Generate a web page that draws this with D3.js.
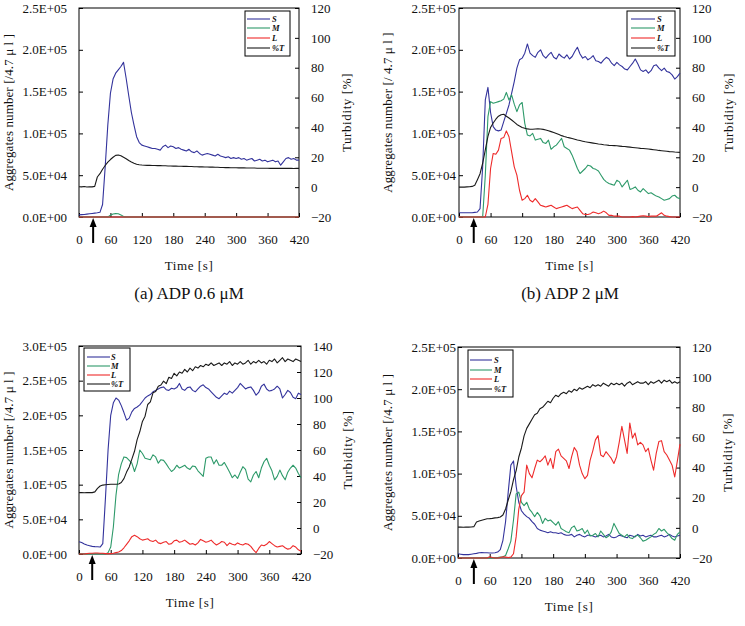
<!DOCTYPE html>
<html><head><meta charset="utf-8">
<script src="https://cdn.jsdelivr.net/npm/d3@7"></script>
<style>
body{margin:0;background:#fff}
text{font-family:"Liberation Serif","Times New Roman",serif;fill:#111}
</style>
</head><body><svg id="c" width="745" height="626"></svg>
<script>
// ---------------- DATA ----------------
// Time axis: one sample every TIME_STEP seconds, 0..420 s
const TIME_STEP = 5;
const xTicks = [0, 60, 120, 180, 240, 300, 360, 420];
// aggregates number, in thousands (x1000 /4.7 ul)
const leftTicks250 = [0, 50, 100, 150, 200, 250];
const leftLabels250 = ["0.0E+00", "5.0E+04", "1.0E+05", "1.5E+05", "2.0E+05", "2.5E+05"];
const leftTicks300 = [0, 50, 100, 150, 200, 250, 300];
const leftLabels300 = ["0.0E+00", "5.0E+04", "1.0E+05", "1.5E+05", "2.0E+05", "2.5E+05", "3.0E+05"];
const rightTicks120 = [-20, 0, 20, 40, 60, 80, 100, 120];
const rightTicks140 = [-20, 0, 20, 40, 60, 80, 100, 120, 140];
const seriesNames = ["S", "M", "L", "%T"];
const captions = ["(a) ADP 0.6 \u03bcM", "(b) ADP 2 \u03bcM"];
const arrowTimes = [27, 28, 25, 30];

// Panel (a) ADP 0.6 uM
const aS = [2.5,2.8,3.0,3.4,3.8,4.2,4.6,5.0,5.6,15,
60,110,148,165,172,176,180,185,166,145,
125,110,96,89,86,85,84,83,82,82,
81,80,84,86,83,85,84,82,83,81,
80,79,81,78,77,79,76,74,75,76,
75,74,73,75,73,72,71,72,70,71,
70,71,69,70,68,69,70,67,68,69,
67,68,66,67,68,66,67,62,66,70,
71,69,70,68,68];
const aM = [0,0,0,0,0,0,0,0,0,0,
0,0,2,3.5,4,3.8,2.5,0.5,0,0,
0,0,0,0,0,0,0,0,0,0,
0,0,0,0,0,0,0,0,0,0,
0,0,0,0,0,0,0,0,0,0,
0,0,0,0,0,0,0,0,0,0,
0,0,0,0,0,0,0,0,0,0,
0,0,0,0,0,0,0,0,0,0,
0,0,0,0,0];
const aL = [0,0,0,0,0,0,0,0,0,0,
0,0,0,0,0,0,0,0,0,0,
0,0,0,0,0,0,0,0,0,0,
0,0,0,0,0,0,0,0,0,0,
0,0,0,0,0,0,0,0,0,0,
0,0,0,0,0,0,0,0,0,0,
0,0,0,0,0,0,0,0,0,0,
0,0,0,0,0,0,0,0,0,0,
0,0,0,0,0];
const aT = [0.3,0.2,0.4,0.1,0.3,0.2,0.5,6.8,9.0,12.0,
14.5,16.8,18.5,20.0,21.3,21.5,21.0,20.0,19.0,17.8,
16.8,16.0,15.3,15.0,14.8,14.7,14.6,14.6,14.5,14.5,
14.4,14.4,14.3,14.3,14.2,14.2,14.1,14.1,14.0,14.0,
13.9,13.9,13.8,13.8,13.7,13.7,13.6,13.6,13.5,13.5,
13.4,13.4,13.3,13.3,13.2,13.2,13.1,13.1,13.0,13.0,
13.0,12.9,12.9,12.9,12.8,12.8,12.8,12.8,12.7,12.7,
12.7,12.7,12.7,12.6,12.6,12.6,12.6,12.6,12.6,12.6,
12.6,12.6,12.5,12.6,12.6];

// Panel (b) ADP 2 uM
const bS = [5,5,5,5,5,5,5.5,6,10,60,
140,155,125,108,104,103,104,114,124,134,
148,162,178,188,190,196,207,196,193,191,
197,200,193,190,194,197,191,189,195,192,
190,194,189,192,198,203,195,190,192,188,
190,193,187,186,184,188,191,189,184,181,
185,182,180,177,176,180,184,189,183,176,
174,176,172,175,181,182,178,175,178,174,
173,170,165,168,172];
const bM = [0,0,0,0,0,0,0,0,0,0,
50,120,138,136,137,138,139,141,149,140,
146,135,126,134,137,112,98,97,100,92,
93,94,89,88,92,81,84,86,90,94,
84,82,80,74,66,58,52,55,58,62,
61,58,57,55,50,45,42,40,39,38,
44,42,36,40,44,33,34,36,32,30,
34,31,28,29,27,25,24,22,20,21,
22,25,26,23,22];
const bL = [0,0,0,0,0,0,0,0,0,0,
0,15,58,76,75,80,94,95,103,96,
78,60,50,32,20,22,26,20,18,22,
18,14,13,12,13,14,12,10,11,12,
13,14,12,10,11,12,8,4,3,3,
4,6,5,4,5,7,5,2,2,1,
1,1,0,0,0,0,0.5,0,0.5,1,
1.5,1,0.5,1,1,1,3,5,2,1,
0.5,0,0,0,0];
const bT = [0,0,0,0.2,0.3,0.5,1.2,5,9,16,
25,34,40,43,45.5,47.5,48.5,48.8,47.5,46.3,
45,43.5,42,41,40,39.5,39,38.8,38.8,38.9,
39,38.9,38.7,38.3,37.8,37.2,36.6,35.9,35.2,34.5,
33.9,33.4,33,32.6,32.1,31.6,31.2,30.8,30.4,30.1,
29.8,29.5,29.2,28.9,28.7,28.4,28.2,28,27.9,27.8,
27.7,27.5,27.3,27.2,27,26.8,26.6,26.4,26.2,26,
25.9,25.7,25.5,25.3,25.1,24.9,24.6,24.4,24.2,24,
23.8,23.7,23.5,23.4,23.3];

// Panel (c)
const cS = [17.8,16.5,14.5,13,12,11,10.6,10.5,10,15,
80,150,200,218,225,222,214,204,193,196,
205,210,212,215,220,225,228,230,234,236,
238,240,241,237,236,239,238,240,246,238,
236,240,241,236,234,238,242,244,240,238,
234,230,226,224,228,232,230,235,232,236,
240,246,242,238,240,241,236,229,233,242,
245,238,235,236,238,242,238,225,230,236,
233,226,224,232,230];
const cM = [0,0,0,0,0,0,0,0,0,0,
0,2,10,39,85,115,130,140,139,135,
131,119,130,150,145,138,137,136,143,140,
131,136,135,130,124,119,122,128,124,126,
128,124,122,127,126,120,116,112,138,140,
140,130,136,128,128,132,125,118,110,114,
109,118,126,122,108,104,114,119,110,124,
133,138,128,120,107,112,121,113,107,118,
124,128,124,116,110];
const cL = [0,0,0,0.5,1,1,1.5,1.5,1,1,
0.5,0.5,0.5,1,2,3,5,9,14,19,
25,27,25,22,20,21,22,19,18,20,
16,15,17,18,14,15,19,20,17,18,
20,17,14,15,13,16,21,19,17,18,
20,16,13,15,18,17,12,16,14,13,
16,14,13,15,14,11,6,2,8,13,
12,14,18,15,12,10,11,12,9,7,
8,12,10,6,4];
const cT = [27.2,27.3,27.1,27.2,27.3,27.2,27.8,30.5,32.3,33,
33.3,33.5,33.6,33.6,33.7,33.8,35,38,43,47,
53,59,68,74,82,86,95,97,104,105,
109,110,113,111,116,115,119,117,120,119,
122,120,123,121,124,123,125,124,126,125,
127,125,126,127,125,127,126,128,125,127,
126,128,126,127,129,126,128,127,129,127,
128,126,129,128,130,127,129,131,128,130,
129,128,130,129,128];

// Panel (d)
const dS = [5,4.5,4,4,4,4.5,5,5.5,6.3,6.5,
6.3,6.3,6,6,6.2,7,10,21,43,78,
110,115,85,66,56,52,49,47,43,40,
35,33,32,31,30,31,30,30,29,30,
28,27,27,28,25,27,28,26,25,27,
27,26,25,26,27,25,26,28,25,24,
25,27,26,25,24,27,26,25,28,26,
27,25,26,27,25,25,26,27,25,26,
28,26,25,26,27];
const dM = [0,0,0,0,0,0,0,0,0,0,
0,0,0,0,0,0.5,1,1.5,3,11,
20,45,76,78,66,62,66,58,54,49,
54,50,41,47,44,45,42,39,43,35,
33,31,30,36,38,32,33,35,29,33,
26,27,29,25,32,28,24,26,31,41,
35,29,27,25,28,24,23,26,27,24,
20,21,23,25,28,30,35,32,34,30,
27,23,21,28,31];
const dL = [0,0,0,0,0,0,0,0,0,0,
0,0,1.5,0.5,0,0,0.5,1.5,1,0.5,
1,5,25,58,74,78,110,100,95,106,
116,114,117,121,110,118,106,126,129,121,
118,115,106,120,131,126,110,100,94,98,
116,127,140,145,122,120,126,122,118,112,
120,137,156,140,124,160,142,148,134,137,
134,126,130,116,104,124,138,139,126,122,
116,110,96,115,135];
const dT = [0.5,0.6,0.4,0.6,0.5,0.6,0.8,3.9,4.5,5,
5.5,6,6.1,6.3,6.6,6.8,7.2,8.5,12.5,18.5,
24,32,38,47,53,61,66,69,72,75,
76,79,80,82,84,83,86,88,87,89,
90,89,91,90,92,91,93,92,93,94,
93,95,94,95,94,96,95,94,96,95,
96,95,96,94,96,97,95,96,97,96,
96,97,95,97,96,97,98,96,98,97,
98,96,97,96,97];

// ---------------- CONFIG ----------------
const colors = {S: "#33339c", M: "#2e9a6a", L: "#ee2b2b", "%T": "#1a1a1a"};

const panels = [
  {S: aS, M: aM, L: aL, T: aT, lTicks: leftTicks250, lLabels: leftLabels250, rTicks: rightTicks120,
   x0: 79, x1: 299, y0: 8, y1: 217, lPad: 12, rPad: 12, ltx: 8, rtx: 346,
   ytitle: "Aggregates number [/4.7 \u03bc l ]",
   leg: {x: 245, y: 11, w: 45, h: 45, rows: [19, 28, 38, 48], l0: 247, l1: 270, tx: 272},
   cap: {x: 189, y: 299, text: captions[0]}},
  {S: bS, M: bM, L: bL, T: bT, lTicks: leftTicks250, lLabels: leftLabels250, rTicks: rightTicks120,
   x0: 459, x1: 680, y0: 8, y1: 217, lPad: 3, rPad: 12, ltx: 387, rtx: 728,
   ytitle: "Aggregates number [/ 4.7 \u03bc l ]",
   leg: {x: 627, y: 11, w: 48, h: 45, rows: [19, 28, 38, 48], l0: 631, l1: 655, tx: 657},
   cap: {x: 570, y: 299, text: captions[1]}},
  {S: cS, M: cM, L: cL, T: cT, lTicks: leftTicks300, lLabels: leftLabels300, rTicks: rightTicks140,
   x0: 79, x1: 301, y0: 346, y1: 554, lPad: 12, rPad: 12, ltx: 8, rtx: 347,
   ytitle: "Aggregates number [/4.7 \u03bc l ]",
   leg: {x: 84, y: 348, w: 46, h: 43, rows: [357, 366, 375, 384], l0: 87, l1: 110, tx: 111}},
  {S: dS, M: dM, L: dL, T: dT, lTicks: leftTicks250, lLabels: leftLabels250, rTicks: rightTicks120,
   x0: 458, x1: 680, y0: 347, y1: 558, lPad: 2, rPad: 12, ltx: 387, rtx: 727,
   ytitle: "Aggregates number [/4.7 \u03bc l ]",
   leg: {x: 468, y: 350, w: 45, h: 47, rows: [360, 370, 379, 389], l0: 470, l1: 492, tx: 494}}
];

// ---------------- DRAW ----------------
const svg = d3.select("#c");
svg.append("rect").attr("width", 745).attr("height", 626).attr("fill", "#fff");

function styleAxis(g) {
  g.select(".domain").remove();
  g.attr("font-family", "Liberation Serif, Times New Roman, serif").attr("font-size", 13);
  g.selectAll("line").attr("stroke", "#000");
  g.selectAll("text").attr("fill", "#111");
}

panels.forEach((p, i) => {
  const g = svg.append("g");
  const x = d3.scaleLinear().domain([0, 420]).range([p.x0, p.x1]);
  const yl = d3.scaleLinear().domain([0, d3.max(p.lTicks)]).range([p.y1, p.y0]);
  const yr = d3.scaleLinear().domain([d3.min(p.rTicks), d3.max(p.rTicks)]).range([p.y1, p.y0]);

  // frame
  g.append("rect").attr("x", p.x0).attr("y", p.y0).attr("width", p.x1 - p.x0).attr("height", p.y1 - p.y0)
    .attr("fill", "none").attr("stroke", "#000").attr("stroke-width", 1);

  // axes
  g.append("g").attr("transform", `translate(${p.x0},0)`)
    .call(d3.axisLeft(yl).tickValues(p.lTicks).tickFormat((d, k) => p.lLabels[k]).tickSize(-4).tickPadding(p.lPad))
    .call(styleAxis);
  g.append("g").attr("transform", `translate(${p.x1},0)`)
    .call(d3.axisRight(yr).tickValues(p.rTicks).tickFormat(d3.format("d")).tickSize(-4).tickPadding(p.rPad))
    .call(styleAxis);
  g.append("g").attr("transform", `translate(0,${p.y1})`)
    .call(d3.axisBottom(x).tickValues(xTicks).tickFormat(d3.format("d")).tickSize(-4).tickPadding(18))
    .call(styleAxis);

  // series
  const lineL = d3.line().x((d, k) => x(k * TIME_STEP)).y(d => yl(d));
  const lineR = d3.line().x((d, k) => x(k * TIME_STEP)).y(d => yr(d));
  [["S", p.S], ["M", p.M], ["L", p.L]].forEach(([n, arr]) => {
    g.append("path").datum(arr).attr("d", lineL).attr("fill", "none")
      .attr("stroke", colors[n]).attr("stroke-width", 1.1).attr("stroke-linejoin", "round");
  });
  g.append("path").datum(p.T).attr("d", lineR).attr("fill", "none")
    .attr("stroke", colors["%T"]).attr("stroke-width", 1.1).attr("stroke-linejoin", "round");

  // arrow (agonist addition)
  const ax = x(arrowTimes[i]);
  g.append("line").attr("x1", ax).attr("x2", ax).attr("y1", p.y1 + 8).attr("y2", p.y1 + 26)
    .attr("stroke", "#000").attr("stroke-width", 2);
  g.append("path").attr("d", `M${ax},${p.y1 + 1}L${ax - 3.5},${p.y1 + 10}L${ax + 3.5},${p.y1 + 10}Z`).attr("fill", "#000");

  // titles
  g.append("text").attr("transform", `translate(${p.ltx},${(p.y0 + p.y1) / 2}) rotate(-90)`)
    .attr("text-anchor", "middle").attr("dominant-baseline", "central")
    .attr("font-size", 13).attr("letter-spacing", 0.1).text(p.ytitle);
  g.append("text").attr("transform", `translate(${p.rtx},${(p.y0 + p.y1) / 2}) rotate(-90)`)
    .attr("text-anchor", "middle").attr("dominant-baseline", "central")
    .attr("font-size", 13).attr("letter-spacing", 0.6).text("Turbidity [%]");
  g.append("text").attr("x", (p.x0 + p.x1) / 2).attr("y", p.y1 + 53)
    .attr("text-anchor", "middle").attr("font-size", 13).attr("letter-spacing", 0.6).text("Time [s]");

  if (p.cap) {
    g.append("text").attr("x", p.cap.x).attr("y", p.cap.y).attr("text-anchor", "middle")
      .attr("font-size", 17).text(p.cap.text);
  }

  // legend
  const L = p.leg;
  g.append("rect").attr("x", L.x).attr("y", L.y).attr("width", L.w).attr("height", L.h)
    .attr("fill", "#fff").attr("stroke", "#000").attr("stroke-width", 1);
  seriesNames.forEach((n, k) => {
    g.append("line").attr("x1", L.l0).attr("x2", L.l1).attr("y1", L.rows[k]).attr("y2", L.rows[k])
      .attr("stroke", colors[n]).attr("stroke-width", 1.1);
    g.append("text").attr("x", L.tx).attr("y", L.rows[k] + 3).attr("font-size", 8.5)
      .attr("font-weight", "bold").attr("font-style", "italic").text(n);
  });
});
</script>
</body></html>
